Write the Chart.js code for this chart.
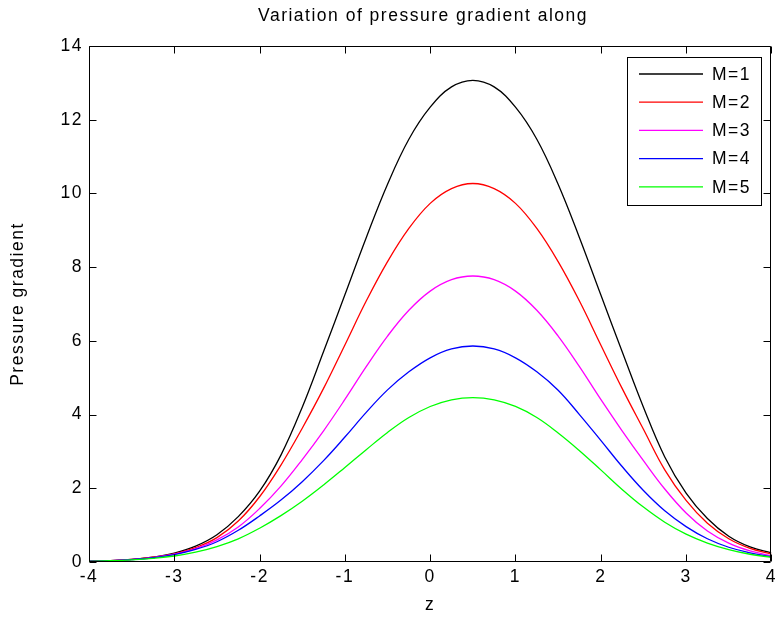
<!DOCTYPE html>
<html>
<head>
<meta charset="utf-8">
<script src="https://cdn.jsdelivr.net/npm/chart.js@4"></script>
<style>
body{margin:0;background:#fff}
#wrap{width:782px;height:620px}
</style>
</head>
<body>
<div id="wrap"><canvas id="chart" width="782" height="620"></canvas></div>
<script>
// values
const zValues = [-4,-3.75,-3.5,-3.25,-3,-2.75,-2.5,-2.25,-2,-1.75,-1.5,-1.25,-1,-0.75,-0.5,-0.25,0,0.25,0.5,0.75,1,1.25,1.5,1.75,2,2.25,2.5,2.75,3,3.25,3.5,3.75,4]
const m1 = [0.02,0.04,0.07,0.13,0.24,0.43,0.74,1.23,1.92,2.9,4.2,5.71,7.25,8.8,10.25,11.47,12.34,12.89,13.07,12.89,12.34,11.47,10.25,8.8,7.25,5.71,4.2,2.85,1.87,1.18,0.7,0.41,0.25]
const m2 = [0.02,0.04,0.07,0.13,0.22,0.39,0.66,1.11,1.77,2.63,3.63,4.71,5.89,7.08,8.15,9.05,9.73,10.13,10.27,10.13,9.73,9.05,8.15,7.08,5.89,4.71,3.6,2.5,1.67,1.05,0.63,0.37,0.22]
const m3 = [0.018,0.035,0.065,0.12,0.21,0.36,0.6,0.95,1.45,2.06,2.78,3.56,4.41,5.3,6.13,6.83,7.35,7.66,7.76,7.66,7.35,6.83,6.13,5.3,4.41,3.56,2.75,1.98,1.33,0.84,0.51,0.3,0.17]
const m4 = [0.02,0.036,0.065,0.115,0.2,0.34,0.55,0.86,1.25,1.68,2.18,2.75,3.39,4.06,4.67,5.16,5.54,5.78,5.86,5.78,5.54,5.16,4.66,4.0,3.3,2.59,1.94,1.39,0.96,0.63,0.4,0.25,0.14]
const m5 = [0.019,0.034,0.059,0.1,0.163,0.267,0.418,0.629,0.917,1.258,1.649,2.09,2.563,3.047,3.515,3.919,4.219,4.4,4.46,4.4,4.22,3.92,3.5,3.02,2.5,1.97,1.49,1.08,0.755,0.514,0.336,0.21,0.128]
const labels = ["M=1","M=2","M=3","M=4","M=5"]
const colors = ["#000000","#ff0000","#ff00ff","#0000ff","#00ff00"]
const series = [m1,m2,m3,m4,m5]

const FONT = "'Liberation Sans', Arial, sans-serif"
const SPACING = "1.5px"

const boxPlugin = {
  id:"box",
  beforeUpdate(chart){ chart.ctx.letterSpacing = SPACING },
  beforeDraw(chart){ chart.ctx.letterSpacing = SPACING },
  afterDraw(chart){
    const ctx = chart.ctx
    const a = chart.chartArea
    const xs = chart.scales.x, ys = chart.scales.y
    ctx.save()
    ctx.letterSpacing = SPACING
    ctx.strokeStyle = "#000"
    ctx.lineWidth = 1
    ctx.beginPath()
    const L = Math.round(a.left)+0.5, R = Math.round(a.right)-0.5
    const T = Math.round(a.top)+0.5, B = Math.round(a.bottom)-0.5
    ctx.rect(L, T, R-L, B-T)
    // inward ticks on all sides
    const tl = 7
    xs.ticks.forEach(t=>{
      const p = Math.round(xs.getPixelForValue(t.value))+0.5
      ctx.moveTo(p,B); ctx.lineTo(p,B-tl)
      ctx.moveTo(p,T); ctx.lineTo(p,T+tl)
    })
    ys.ticks.forEach(t=>{
      const p = Math.round(ys.getPixelForValue(t.value))+0.5
      ctx.moveTo(L,p); ctx.lineTo(L+tl,p)
      ctx.moveTo(R,p); ctx.lineTo(R-tl,p)
    })
    ctx.stroke()

    // title
    ctx.fillStyle = "#000"
    ctx.font = "17.5px " + FONT
    ctx.textAlign = "center"
    ctx.textBaseline = "alphabetic"
    ctx.fillText("Variation of pressure gradient along", 423, 21)

    // legend
    const lx = 627.5, ly = 57.5, lw = 134, lh = 148
    ctx.fillStyle = "#fff"
    ctx.fillRect(lx, ly, lw, lh)
    ctx.strokeStyle = "#000"
    ctx.strokeRect(lx, ly, lw, lh)
    chart.data.datasets.forEach((ds,i)=>{
      const y = 74 + i*28.2
      ctx.strokeStyle = ds.borderColor
      ctx.lineWidth = 1.3
      ctx.beginPath()
      ctx.moveTo(639, y); ctx.lineTo(703, y)
      ctx.stroke()
      ctx.fillStyle = "#000"
      ctx.textAlign = "left"
      ctx.textBaseline = "middle"
      ctx.fillText(ds.label, 712, y+1)
    })
    ctx.restore()
  }
}

new Chart(document.getElementById("chart"), {
  type:"line",
  data:{
    datasets: series.map((s,i)=>({
      label: labels[i],
      data: s.map((v,j)=>({x:zValues[j], y:v})),
      borderColor: colors[i],
      borderWidth: 1.3,
      pointRadius: 0,
      tension: 0.4,
      fill: false,
      order: 5-i
    }))
  },
  options:{
    responsive:false,
    animation:false,
    events:[],
    layout:{padding:{left:0,right:5,top:46,bottom:0}},
    plugins:{
      legend:{display:false},
      title:{display:false},
      tooltip:{enabled:false}
    },
    scales:{
      x:{
        type:"linear",
        min:-4, max:4,
        afterFit(s){ s.height = 58 },
        grid:{display:false, drawTicks:false},
        border:{display:false},
        ticks:{stepSize:1, padding:5, color:"#000", font:{family:FONT, size:17.5}},
        title:{display:true, text:"z", color:"#000", padding:{top:0,bottom:4}, font:{family:FONT, size:17.5}}
      },
      y:{
        min:0, max:14,
        afterFit(s){ s.width = 89 },
        grid:{display:false, drawTicks:false},
        border:{display:false},
        ticks:{stepSize:2, padding:6, color:"#000", font:{family:FONT, size:17.5}},
        title:{display:true, text:"Pressure gradient", color:"#000", padding:{top:8,bottom:0}, font:{family:FONT, size:17.5}}
      }
    }
  },
  plugins:[boxPlugin]
})
</script>
</body>
</html>
